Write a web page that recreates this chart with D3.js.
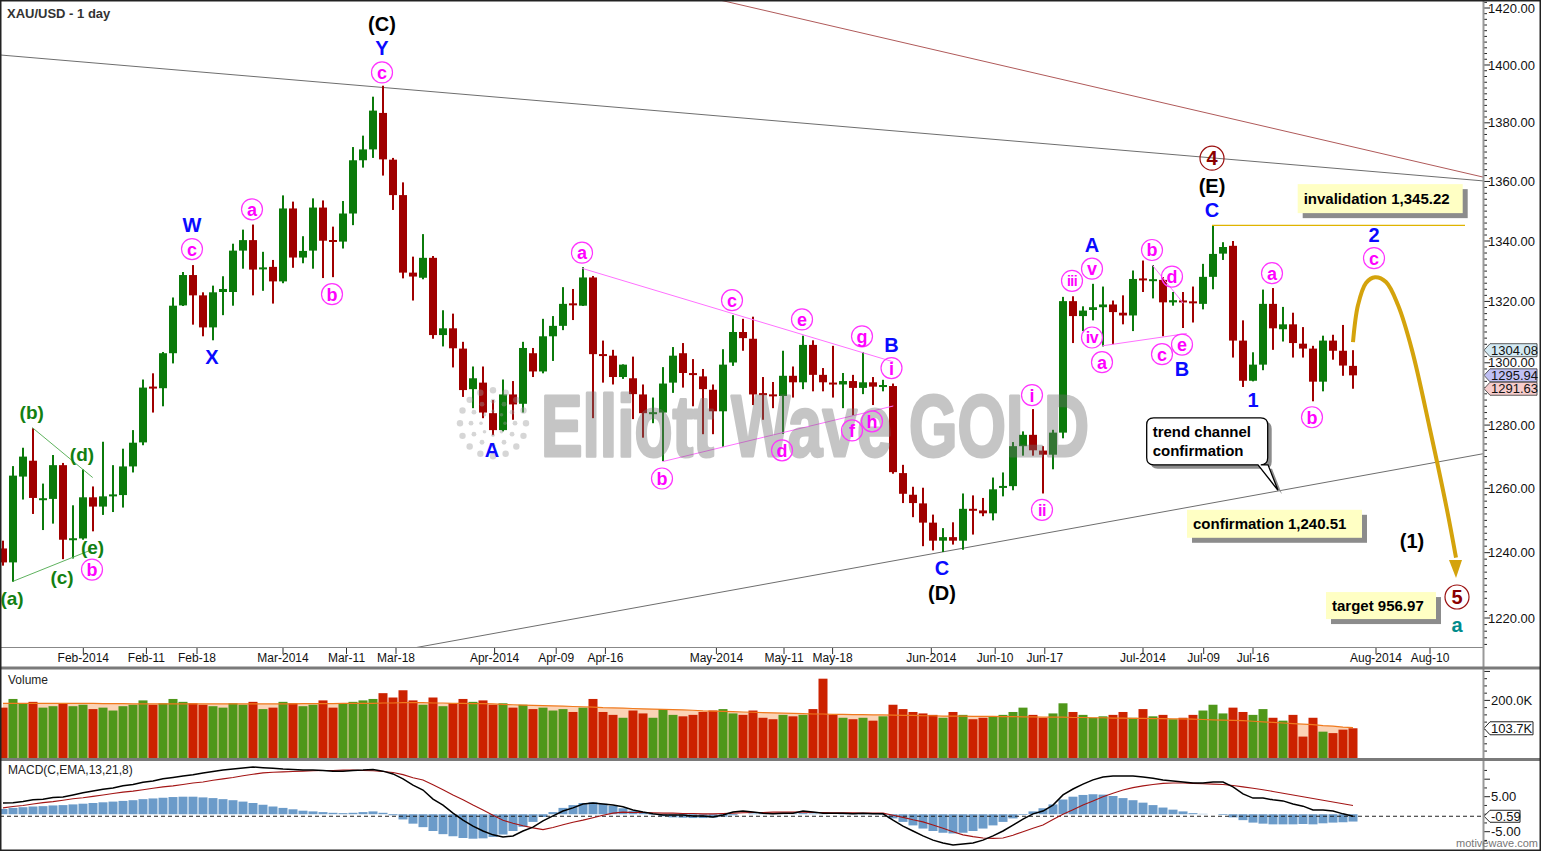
<!DOCTYPE html>
<html><head><meta charset="utf-8"><title>XAU/USD - 1 day</title>
<script src="https://cdn.jsdelivr.net/npm/d3@7/dist/d3.min.js"></script>
<style>
html,body{margin:0;padding:0;background:#fff;}
svg{display:block;font-family:"Liberation Sans",Arial,Helvetica,sans-serif;}
</style></head><body>
<svg id="chart" width="1541" height="851"></svg>
<script>
// ---------------- DATA ----------------
const opens = [1241.3,1237,1263.7,1268.7,1256.4,1256.7,1267.3,1244,1244.4,1257.2,
1254.3,1257.6,1257.9,1266.9,1274.5,1292.2,1291.8,1303.1,1318.7,1328.7,
1322,1311.5,1323.1,1323.1,1336.8,1340.3,1330.8,1331.4,1326.6,1350.9,
1334.5,1336.8,1351.2,1340.1,1339.8,1349.2,1367.2,1370.9,1383.4,1367.4,
1355.4,1329.5,1327.8,1334.4,1309,1311.2,1304.6,1291.5,1293.6,1283.8,
1278.4,1289.8,1286.8,1303.1,1297.2,1308.6,1312,1319.2,1318.6,1327.9,
1302.6,1302.3,1295.4,1295,1289.8,1283.7,1284,1293.6,1303.1,1296.4,
1295.6,1291.3,1284.4,1300.1,1310,1307.8,1290,1289.6,1289.3,1295.8,
1293.7,1305.8,1296.1,1293.4,1293,1294.1,1291.9,1293.7,1292.4,1292.5,
1264.8,1258,1255.3,1249.3,1243.7,1244.8,1243.7,1253.4,1253.1,1252.2,
1260.2,1260.7,1273.3,1276.9,1271.9,1270.6,1277.6,1320.1,1315.2,1317.2,
1318.1,1319,1316.3,1315.4,1327.4,1326.9,1327.1,1319.7,1320.1,1319.8,
1319.2,1328.1,1335.8,1338.4,1307.2,1294.2,1299.4,1319.2,1310.9,1312.5,
1306.2,1304.6,1293.9,1307.2,1303.9,1299];
const highs = [1243.7,1267,1272.8,1279,1261.5,1270.5,1268,1254.7,1266,1260.6,
1274.7,1267.3,1272.5,1278.4,1294.6,1296.6,1303.5,1321.3,1329.7,1332,
1323,1325.2,1328.3,1339.1,1343.8,1345.5,1336.4,1333.7,1355.3,1353.2,
1341.6,1354.3,1353.6,1344.8,1353.4,1371.7,1375.6,1389,1392.8,1368,
1359.7,1334.8,1342.3,1335,1317.1,1316,1306.8,1298.8,1298.8,1288,
1294.6,1294.1,1306.8,1304.8,1314.3,1315.2,1324.7,1324.1,1331.3,1328.4,
1307.2,1304.2,1299.5,1302,1293,1288.8,1298.6,1305.1,1306.4,1301.2,
1298,1293,1304.4,1315.5,1314.3,1315,1295.4,1293.8,1303.9,1298.8,
1308.8,1307.3,1298.3,1305.5,1296.7,1296.1,1303.5,1295.4,1294.5,1293.3,
1267.4,1260.5,1260.2,1251.8,1247.6,1249.4,1258.4,1257.8,1257,1263.4,
1265,1274.6,1278,1285.1,1273.3,1278.5,1321.5,1321.7,1318.4,1325.8,
1324.9,1320.3,1322,1330.2,1333.5,1332,1328,1323.1,1323.1,1324.9,
1332.4,1345.2,1339.6,1340,1313.8,1303.4,1323.9,1324.4,1318.2,1316.3,
1311.6,1305.5,1308.8,1309.1,1312.3,1304.08];
const lows = [1236,1231,1256.5,1252,1247,1249,1238,1238.2,1244,1246.6,
1251.7,1252.6,1254,1265,1273.6,1284,1286,1299.8,1318.5,1312.4,
1308.6,1307.3,1315.5,1318.6,1330.8,1322,1323.5,1319.3,1326,1331.1,
1332.6,1330.8,1327.7,1328,1337.5,1345.3,1364.7,1368,1362,1350.4,
1327.6,1320.3,1327.3,1307.8,1305.3,1298.5,1289,1285.4,1282.2,1276.8,
1278,1281.7,1284,1295.4,1296.6,1300.6,1310.6,1313.9,1318.5,1282.2,
1293.6,1293,1294.8,1281.9,1276,1280.6,1268.6,1290.3,1292,1286,
1277.1,1277.1,1273.1,1299,1303.9,1286.4,1281.7,1285.4,1277.2,1288.8,
1291.5,1290.8,1290.8,1288.8,1285.4,1283,1289.9,1286.4,1290.8,1264.6,
1255.4,1251,1242,1240.7,1240.2,1242.5,1240.9,1245.6,1251.3,1250,
1257.5,1259.4,1270.3,1270.3,1258.4,1266,1275.8,1306.4,1310.3,1313.8,
1305.3,1306,1312.5,1310.3,1323.1,1321,1308.6,1318.6,1311.3,1313.1,
1317.4,1324,1333.7,1301.7,1292.2,1294,1297.6,1304.2,1306.9,1301.7,
1301.7,1287.6,1290.8,1301,1295.8,1291.63];
const closes = [1237,1264,1270,1257,1256.8,1267.3,1244,1244.3,1257.2,1254.3,
1257.5,1258,1266.9,1274.4,1292,1291.8,1303.1,1318.6,1328.7,1322,
1311.5,1323,1324.1,1336.8,1340.3,1330.5,1331,1326.6,1350.9,1334.5,
1336.7,1351.2,1340.1,1339.9,1349.2,1367.2,1370.9,1384.2,1367.5,1355.4,
1329.5,1328.2,1334.4,1309,1311.2,1304.7,1291.2,1295,1284,1278.4,
1289.8,1286.6,1304.8,1297.2,1308.6,1312,1319.2,1318.9,1327.9,1302.8,
1302.4,1295.4,1299.4,1289.9,1283.8,1283.9,1293.3,1302.3,1296.7,1296.3,
1291.5,1284.4,1299.4,1310,1308,1289.8,1289.8,1289.4,1295.8,1293.7,
1305.8,1296.1,1293.7,1293.2,1294.1,1291.9,1293.7,1292.3,1292.6,1265.1,
1258.3,1255.4,1249.3,1243.7,1244.8,1243.7,1253.6,1253.2,1252.2,1259.7,
1260.7,1273.3,1276.9,1272,1270.6,1277.6,1320.1,1315.2,1317,1318.1,
1319,1316.5,1315.4,1327.4,1327.1,1327.1,1319.7,1320.4,1319.9,1319.6,
1328.1,1335.7,1338,1307.2,1294.2,1299.4,1319.2,1311.2,1312.5,1306.4,
1304.6,1293.9,1307.2,1303.9,1299.1,1295.94];

// volume (thousands) and its moving average
const volumes = [175,205,190,195,175,180,190,180,185,170,
175,165,180,185,200,185,190,205,195,190,
185,180,175,190,185,195,170,175,195,190,
180,185,200,175,190,195,200,205,225,210,
235,200,185,210,180,190,205,195,200,185,
190,175,185,170,175,165,170,160,175,205,
160,150,140,165,155,140,170,150,145,150,
160,165,170,155,150,165,140,135,150,145,
150,170,275,150,140,135,140,130,145,185,
170,160,155,150,140,160,150,135,140,145,
150,160,175,150,140,155,190,160,150,140,
145,150,160,140,170,145,150,135,140,150,
165,185,155,175,160,150,170,140,130,150,
75,140,92,87,99,103.7];
const volumeMA = [190,190,190,190,190,190,190,190,190,190,
189,189,189,188,188,188,188,188,188,188,
188,188,188,188,188,188,188,188,188,188,
189,189,189,189,190,190,190,190,191,191,
192,192,192,191,191,190,190,189,189,188,
186,185,184,183,182,181,180,179,178,177,
175,174,173,172,171,170,169,168,167,166,
164,163,162,161,160,159,158,157,156,155,
154,153,153,152,152,151,151,150,150,149,
148,148,147,147,146,146,146,145,145,145,
144,144,143,143,142,142,142,141,141,140,
140,139,139,138,138,137,137,136,136,135,
134,133,132,131,130,128,126,124,122,120,
118,116,113,111,108,106];

// MACD(13,21,8)
const macdLine = [3.2,3.3,3.6,4.1,4.3,4.8,4.9,5.5,6.1,6.6,
7.1,7.5,8.1,8.5,9.1,9.5,10.1,10.5,10.9,11.3,
11.8,12.2,12.6,12.9,13.2,13.5,13.3,13.1,12.9,12.8,
12.6,12.6,12.5,12.3,12.3,12.5,12.6,12.8,12.3,11.5,
10.1,8.3,6.9,4.3,2.6,0.3,-1.7,-3.4,-4.8,-5.9,
-6.5,-6.2,-4.8,-3.7,-1.9,-0.5,0.9,1.8,2.9,3.2,
2.9,2.6,2.1,1.2,0.6,0.1,-0.2,-0.2,-0.2,-0.5,
-0.5,-0.8,-0.2,0.6,0.9,0.6,0.3,0.1,0.3,0.3,
0.9,0.6,0.3,0.3,0.3,0.1,0.3,0.1,0.1,-1.7,
-3.4,-4.8,-6.2,-7.4,-8.2,-8.8,-8.5,-8.2,-7.4,-6.2,
-4.8,-3.1,-1.4,0.1,0.9,2.6,5.5,7.2,8.6,9.8,
10.6,10.9,10.9,10.9,10.6,10.3,9.8,9.5,9.2,8.9,
8.9,9.2,9.2,7.8,5.8,4.6,4.6,4.1,3.8,2.9,
2.3,1.2,1.2,0.9,0.1,-0.59];
const signalLine = [1.8,2.2,2.5,2.9,3.3,3.6,4.0,4.4,4.7,5.1,
5.5,5.9,6.3,6.6,7.0,7.4,7.8,8.1,8.5,8.9,
9.2,9.7,10.1,10.5,11.0,11.4,11.8,12.0,12.1,12.2,
12.3,12.4,12.5,12.5,12.6,12.6,12.5,12.4,12.2,11.9,
11.3,10.4,9.8,8.4,7.0,5.5,4.1,2.6,1.2,-0.3,
-1.7,-2.6,-3.3,-3.9,-4.4,-3.8,-3.0,-2.3,-1.7,-1.0,
-0.3,0.3,0.6,0.5,0.5,0.4,0.3,0.3,0.2,0.2,
0.1,0.1,0.2,0.3,0.4,0.5,0.5,0.6,0.6,0.6,
0.6,0.5,0.5,0.4,0.4,0.4,0.3,0.3,0.3,-0.3,
-0.9,-1.6,-2.2,-3.1,-4.0,-5.0,-5.9,-6.4,-6.8,-6.9,
-6.8,-6.0,-5.0,-4.0,-3.1,-1.5,0.0,1.3,2.6,3.8,
5.0,6.0,6.9,7.6,8.1,8.5,8.8,8.9,8.9,8.8,
8.7,8.6,8.5,8.2,7.8,7.4,7.0,6.5,6.0,5.5,
5.0,4.5,4.0,3.5,3.0,2.5];
const macdHist = [1.5,1.8,2.0,2.2,2.3,2.5,2.6,2.8,3.0,3.2,
3.4,3.6,3.8,4.0,4.3,4.5,4.7,4.9,5.0,5.0,
4.8,4.6,4.3,4.0,3.6,3.2,2.7,2.2,1.8,1.4,
1.0,0.8,0.6,0.4,0.3,0.4,0.6,0.8,0.4,-0.3,
-1.5,-2.7,-3.7,-4.8,-5.7,-6.3,-6.8,-7.0,-6.9,-6.5,
-5.8,-4.8,-3.6,-2.2,-0.8,0.6,1.8,2.6,3.2,3.4,
3.0,2.4,1.7,1.0,0.4,-0.2,-0.6,-0.9,-1.0,-1.1,
-1.1,-1.0,-0.7,-0.3,0.0,0.2,0.3,0.3,0.3,0.2,
0.3,0.2,0.1,0.0,-0.1,-0.1,-0.1,-0.1,-0.2,-1.2,
-2.2,-3.2,-4.1,-4.8,-5.3,-5.5,-5.3,-4.8,-4.1,-3.2,
-2.2,-1.2,-0.2,0.8,1.7,2.8,4.2,5.0,5.5,5.7,
5.6,5.2,4.6,4.0,3.3,2.6,1.9,1.3,0.8,0.3,
0.1,0.0,-0.2,-0.9,-1.7,-2.4,-2.7,-2.9,-2.9,-2.9,
-2.8,-2.9,-2.6,-2.4,-2.3,-2.1];

// time axis: label text and bar position (bar 0 = 22 Jan 2014)
const xTickLabels = ["Feb-2014","Feb-11","Feb-18","Mar-2014","Mar-11","Mar-18","Apr-2014","Apr-09","Apr-16","May-2014","May-11","May-18","Jun-2014","Jun-10","Jun-17","Jul-2014","Jul-09","Jul-16","Aug-2014","Aug-10"];
const xTickBars = [8.03,14.34,19.4,28,34.35,39.3,49.16,55.32,60.24,71.34,78.1,82.96,92.83,99.22,104.18,114,120.07,125,137.3,142.7];
const priceTicks = [1220,1240,1260,1280,1300,1320,1340,1360,1380,1400,1420];
const volumeTicks = [200];
const macdTicks = [5,-5];

// wave labels: text, bar, price, kind
const waveLabels = [
 ["(C)",37.9,1414.4,"black"],["Y",37.9,1406.1,"blue"],["c",37.9,1397.4,"circ"],
 ["W",18.9,1345.3,"blue"],["c",18.9,1337.3,"circ"],["X",20.9,1301.9,"blue"],
 ["a",24.9,1350.6,"circ"],["b",32.9,1322.4,"circ"],["a",57.9,1336.1,"circ"],
 ["A",48.9,1272.1,"blue"],["c",72.9,1320.4,"circ"],["e",79.9,1314.1,"circ"],
 ["g",85.9,1308.6,"circ"],["B",88.85,1305.9,"blue"],["i",88.85,1298.3,"circ"],
 ["b",65.9,1263.1,"circ"],["d",77.9,1272.0,"circ"],["f",84.9,1278.3,"circ"],
 ["h",86.9,1281.2,"circ"],["C",93.9,1235.3,"blue"],["(D)",93.9,1227.8,"black"],
 ["i",102.9,1289.6,"circ"],["ii",103.9,1253.3,"circ"],["iii",106.9,1326.8,"circ"],
 ["v",108.9,1330.8,"circ"],["A",108.9,1338.7,"blue"],["iv",108.9,1308.2,"circ"],
 ["a",109.9,1300.2,"circ"],["b",114.9,1337.0,"circ"],["d",116.9,1328.2,"circ"],
 ["c",115.9,1302.8,"circ"],["e",117.9,1305.9,"circ"],["B",117.9,1298.1,"blue"],
 ["4",120.9,1367.9,"red"],["(E)",120.9,1358.5,"black"],["C",120.9,1350.4,"blue"],
 ["a",126.9,1329.3,"circ"],["1",125.0,1288.2,"blue"],["b",130.9,1282.5,"circ"],
 ["2",137.1,1342.0,"blue"],["c",137.1,1334.3,"circ"],["(1)",140.9,1243.6,"black"],
 ["5",145.4,1226.4,"red"],["a",145.4,1218.0,"teal"],
 ["(b)",2.87,1284.2,"green"],["(d)",7.9,1270.8,"green"],["(e)",8.95,1241.7,"green"],
 ["b",8.9,1234.8,"circ"],["(c)",5.9,1232.6,"green"],["(a)",0.9,1226.0,"green"]
];
// trend lines (bar, price) pairs
const channelTop = [[-0.3,1403.5],[148,1360.2]];
const channelOuter = [[71.7,1422.8],[148,1361.5]];
const channelBottom = [[41.2,1211.0],[148,1270.9]];
const pinkLines = [[[57.93,1330.9],[89.03,1300.3]],[[65.93,1268.4],[89.03,1286.1]],[[109.93,1305.5],[118.37,1309.5]],[[114.93,1332.0],[118.03,1319.4]]];
const greenLines = [[[0.93,1231.1],[8.7,1240.7]],[[2.93,1279.2],[8.97,1263.4]]];
const invalidationLevel = 1345.22, invalidationFrom = 120.9, invalidationTo = 146.2;
const projection = [[135,1306.7],[135.5,1318.8],[136.3,1326.1],[137.2,1328.0],[138.3,1326.4],[139.5,1318.8],[140.9,1304.1],[142.7,1278.6],[144.4,1253.3],[145.3,1238.5]];
const projectionTip = [145.3,1232.2];
const lastHigh = 1304.08, lastClose = 1295.94, lastLow = 1291.63;
const lastVolume = 103.7, lastMacd = -0.59;

// ---------------- DRAW ----------------
const svg = d3.select('#chart');
const AX = 1483;
svg.append('rect').attr('width',1541).attr('height',851).attr('fill','#fff');

const x = d3.scaleLinear().domain([0,148]).range([3,1483]);
const y = d3.scaleLog().domain([1220,1420]).range([618,8]);
const yv = d3.scaleLinear().domain([0,200]).range([758.3,700.4]);
const ym = d3.scaleLinear().domain([-5,5]).range([831.7,796.7]);

const defs = svg.append('defs');
defs.append('clipPath').attr('id','pc').append('rect').attr('x',0).attr('y',0).attr('width',AX).attr('height',647);
defs.append('clipPath').attr('id','vc').append('rect').attr('x',0).attr('y',669).attr('width',AX).attr('height',90);
defs.append('clipPath').attr('id','mc').append('rect').attr('x',0).attr('y',761).attr('width',AX).attr('height',88);

const plot = svg.append('g').attr('clip-path','url(#pc)');
const L = d3.line().x(d=>x(d[0])).y(d=>y(d[1]));

// channel lines
plot.append('path').attr('d',L(channelTop)).attr('stroke','#6e6e6e').attr('stroke-width',1).attr('fill','none');
plot.append('path').attr('d',L(channelOuter)).attr('stroke','#b05a5a').attr('stroke-width',1).attr('fill','none');
plot.append('path').attr('d',L(channelBottom)).attr('stroke','#6e6e6e').attr('stroke-width',1).attr('fill','none');

// candles
const N = closes.length;
const idx = d3.range(N);
const GREEN = '#0b7a0b', RED = '#a00000';
const col = i => closes[i] >= opens[i] ? GREEN : RED;
plot.selectAll('.wick').data(idx).join('rect').attr('class','wick')
  .attr('x',i=>x(i)-1).attr('width',2)
  .attr('y',i=>y(highs[i])).attr('height',i=>Math.max(1,y(lows[i])-y(highs[i])))
  .attr('fill',col);
plot.selectAll('.body').data(idx).join('rect').attr('class','body')
  .attr('x',i=>x(i)-4).attr('width',8)
  .attr('y',i=>{const t=y(Math.max(opens[i],closes[i])), b=y(Math.min(opens[i],closes[i])); return b-t<2 ? (t+b)/2-1 : t;})
  .attr('height',i=>Math.max(2,y(Math.min(opens[i],closes[i]))-y(Math.max(opens[i],closes[i]))))
  .attr('fill',col);

// pattern lines
pinkLines.forEach(p=>plot.append('path').attr('d',L(p)).attr('stroke','#ff70ff').attr('stroke-width',1).attr('fill','none'));
greenLines.forEach(p=>plot.append('path').attr('d',L(p)).attr('stroke','#5fb35f').attr('stroke-width',1).attr('fill','none'));

// watermark
const wm = plot.append('g').attr('opacity',0.4);
wm.append('text').attr('x',541).attr('y',456).attr('textLength',548).attr('lengthAdjust','spacingAndGlyphs')
  .attr('font-size',88).attr('font-weight','bold').attr('font-family','"Liberation Sans Narrow","Liberation Sans",Arial,sans-serif')
  .attr('fill','#707070').attr('stroke','#707070').attr('stroke-width',3).attr('stroke-linejoin','round').text('Elliott Wave GOLD');
const lc = [x(49), y(1280.6)];
[[33,16,3.2],[22,12,2.4],[12,8,1.8]].forEach(([r,n,s])=>{
  d3.range(n).forEach(k=>{const a=2*Math.PI*k/n; wm.append('circle').attr('cx',lc[0]+r*Math.cos(a)).attr('cy',lc[1]+r*Math.sin(a)).attr('r',s).attr('fill','#9a9a9a');});
});

// invalidation line
plot.append('line').attr('x1',x(invalidationFrom)).attr('x2',x(invalidationTo))
  .attr('y1',y(invalidationLevel)).attr('y2',y(invalidationLevel)).attr('stroke','#e0b400').attr('stroke-width',1.2);

// projection arrow
plot.append('path').attr('d',d3.line().curve(d3.curveCatmullRom).x(d=>x(d[0])).y(d=>y(d[1]))(projection))
  .attr('stroke','#d4a30c').attr('stroke-width',4).attr('fill','none');
{
  const tx=x(projectionTip[0]), ty=y(projectionTip[1]);
  plot.append('path').attr('d',`M${tx},${ty} L${tx-7},${ty-18} L${tx+6},${ty-18} Z`).attr('fill','#d4a30c');
}

// wave labels
const lab = svg.append('g');
const kinds = {
  black:{fill:'#000',size:20}, blue:{fill:'#0a0aff',size:20}, green:{fill:'#128012',size:19},
  teal:{fill:'#008b8b',size:20}
};
waveLabels.forEach(([t,b,p,k])=>{
  const cx=x(b), cy=y(p);
  if(k==='circ'){
    lab.append('circle').attr('cx',cx).attr('cy',cy).attr('r',10.5).attr('fill','none').attr('stroke','#ff33ff').attr('stroke-width',1.2);
    lab.append('text').attr('x',cx).attr('y',cy).attr('dy','0.36em').attr('text-anchor','middle')
      .attr('font-size',t.length>2?14:(t.length>1?16:18)).attr('font-weight','bold').attr('fill','#ff00ff')
      .attr('letter-spacing',t.length>1?-0.5:0).text(t);
  } else if(k==='red'){
    lab.append('circle').attr('cx',cx).attr('cy',cy).attr('r',12).attr('fill','none').attr('stroke','#9b1010').attr('stroke-width',1.2);
    lab.append('text').attr('x',cx).attr('y',cy).attr('dy','0.36em').attr('text-anchor','middle')
      .attr('font-size',20).attr('font-weight','bold').attr('fill','#8b0000').text(t);
  } else {
    const s=kinds[k];
    lab.append('text').attr('x',cx).attr('y',cy).attr('dy','0.36em').attr('text-anchor','middle')
      .attr('font-size',s.size).attr('font-weight','bold').attr('fill',s.fill).text(t);
  }
});

// callout boxes
function noteBox(bar, price, w, h, txt){
  const bx=x(bar), by=y(price);
  lab.append('rect').attr('x',bx+5).attr('y',by+5).attr('width',w).attr('height',h).attr('fill','#8c8c8c');
  lab.append('rect').attr('x',bx).attr('y',by).attr('width',w).attr('height',h).attr('fill','#ffffc4');
  lab.append('text').attr('x',bx+6).attr('y',by+h/2).attr('dy','0.36em').attr('font-size',15).attr('font-weight','bold').attr('fill','#000').text(txt);
}
noteBox(129.47,1359.1,165,29,'invalidation 1,345.22');
noteBox(118.4,1253.3,175,28,'confirmation 1,240.51');
noteBox(132.3,1227.9,110,27,'target 956.97');
{
  const bx=x(114.37), by=y(1282.3), w=121, h=47, tx=x(127.5), ty=y(1259.4);
  const shape = `M${bx+7},${by} H${bx+w-7} Q${bx+w},${by} ${bx+w},${by+7} V${by+h-7} Q${bx+w},${by+h} ${bx+w-7},${by+h} H${tx-10} L${tx},${ty} L${tx-20},${by+h} H${bx+7} Q${bx},${by+h} ${bx},${by+h-7} V${by+7} Q${bx},${by} ${bx+7},${by} Z`;
  lab.append('path').attr('d',shape).attr('transform','translate(4,4)').attr('fill','#8c8c8c');
  lab.append('path').attr('d',shape).attr('fill','#fff').attr('stroke','#000').attr('stroke-width',1.3);
  lab.append('text').attr('x',bx+6).attr('y',by+19).attr('font-size',15).attr('font-weight','bold').text('trend channel');
  lab.append('text').attr('x',bx+6).attr('y',by+38).attr('font-size',15).attr('font-weight','bold').text('confirmation');
}

// title
svg.append('text').attr('x',7).attr('y',18).attr('font-size',13).attr('font-weight','bold').attr('fill','#333').text('XAU/USD - 1 day');

// ---------- axes ----------
const ax = svg.append('g');
d3.range(1212,1424,2).forEach(v=>{
  const yy=y(v); if(yy<1||yy>646) return;
  ax.append('line').attr('x1',AX+1).attr('x2',AX+(v%20===0?7:4)).attr('y1',yy).attr('y2',yy).attr('stroke','#222');
});
priceTicks.forEach(v=>{
  ax.append('text').attr('x',AX+5).attr('y',y(v)).attr('dy','0.36em').attr('font-size',13).attr('fill','#111').text(v.toFixed(2));
});
function valueTag(yy, txt, fill, w){
  ax.append('path').attr('d',`M${AX+1},${yy} L${AX+7},${yy-6.5} H${AX+7+w} V${yy+6.5} H${AX+7} Z`).attr('fill',fill).attr('stroke','#333').attr('stroke-width',0.8);
  ax.append('text').attr('x',AX+8).attr('y',yy).attr('dy','0.36em').attr('font-size',13).attr('fill','#111').text(txt);
}
valueTag(y(lastHigh), lastHigh.toFixed(2), '#d3e9f2', 47);
valueTag(y(lastClose), lastClose.toFixed(2), '#c0c0f4', 47);
valueTag(y(lastLow), lastLow.toFixed(2), '#f6cccc', 47);

ax.append('line').attr('x1',0).attr('x2',AX).attr('y1',647.5).attr('y2',647.5).attr('stroke','#888');
xTickBars.forEach((b,i)=>{
  ax.append('line').attr('x1',x(b)).attr('x2',x(b)).attr('y1',648).attr('y2',654).attr('stroke','#333');
  ax.append('text').attr('x',x(b)).attr('y',662).attr('text-anchor','middle').attr('font-size',12).attr('fill','#111').text(xTickLabels[i]);
});

// ---------- volume panel ----------
const vp = svg.append('g').attr('clip-path','url(#vc)');
vp.append('path').datum(idx).attr('d',d3.area().x(i=>x(i)).y0(yv(0)).y1(i=>yv(volumeMA[i]))).attr('fill','#fbd3b6');
vp.selectAll('.vb').data(idx).join('rect').attr('class','vb')
  .attr('x',i=>x(i)-4.5).attr('width',9).attr('y',i=>yv(volumes[i])).attr('height',i=>yv(0)-yv(volumes[i]))
  .attr('fill',i=>closes[i]>=opens[i]?'#4f971a':'#cc2200');
vp.append('path').datum(idx).attr('d',d3.line().x(i=>x(i)).y(i=>yv(volumeMA[i]))).attr('fill','none').attr('stroke','#f07a1e').attr('stroke-width',1.2);
svg.append('text').attr('x',8).attr('y',684).attr('font-size',12).attr('fill','#222').text('Volume');
d3.range(0,301,25).forEach(v=>{const yy=yv(v); if(yy<670||yy>758) return; ax.append('line').attr('x1',AX+1).attr('x2',AX+(v%100===0?7:4)).attr('y1',yy).attr('y2',yy).attr('stroke','#222');});
volumeTicks.forEach(v=>ax.append('text').attr('x',AX+8).attr('y',yv(v)).attr('dy','0.36em').attr('font-size',13).attr('fill','#111').text(v.toFixed(1)+'K'));
{
  const yy=yv(lastVolume);
  ax.append('path').attr('d',`M${AX+1},${yy} L${AX+7},${yy-6.5} H${AX+50} V${yy+6.5} H${AX+7} Z`).attr('fill','#fff').attr('stroke','#222');
  ax.append('text').attr('x',AX+8).attr('y',yy).attr('dy','0.36em').attr('font-size',13).attr('fill','#111').text(lastVolume.toFixed(1)+'K');
}

// ---------- MACD panel ----------
const mp = svg.append('g').attr('clip-path','url(#mc)');
mp.selectAll('.hb').data(idx).join('rect').attr('class','hb')
  .attr('x',i=>x(i)-4.5).attr('width',9)
  .attr('y',i=>Math.min(ym(0),ym(macdHist[i]))).attr('height',i=>Math.abs(ym(macdHist[i])-ym(0)))
  .attr('fill','#6b9bc9');
mp.append('line').attr('x1',0).attr('x2',AX).attr('y1',ym(lastMacd)).attr('y2',ym(lastMacd)).attr('stroke','#222').attr('stroke-dasharray','4,3');
mp.append('path').datum(idx).attr('d',d3.line().x(i=>x(i)).y(i=>ym(signalLine[i]))).attr('fill','none').attr('stroke','#a31515').attr('stroke-width',1.1);
mp.append('path').datum(idx).attr('d',d3.line().x(i=>x(i)).y(i=>ym(macdLine[i]))).attr('fill','none').attr('stroke','#000').attr('stroke-width',1.5);
svg.append('text').attr('x',8).attr('y',774).attr('font-size',12).attr('fill','#222').text('MACD(C,EMA,13,21,8)');
d3.range(-12.5,13,2.5).forEach(v=>{const yy=ym(v); if(yy<762||yy>848) return; ax.append('line').attr('x1',AX+1).attr('x2',AX+(v%5===0?7:4)).attr('y1',yy).attr('y2',yy).attr('stroke','#222');});
macdTicks.forEach(v=>ax.append('text').attr('x',AX+8).attr('y',ym(v)).attr('dy','0.36em').attr('font-size',13).attr('fill','#111').text(v.toFixed(2)));
{
  const yy=ym(lastMacd);
  ax.append('path').attr('d',`M${AX+1},${yy} L${AX+7},${yy-6} H${AX+37} V${yy+6} H${AX+7} Z`).attr('fill','#fff').attr('stroke','#222');
  ax.append('text').attr('x',AX+8).attr('y',yy).attr('dy','0.36em').attr('font-size',13).attr('fill','#111').text(lastMacd.toFixed(2));
}
svg.append('text').attr('x',1538).attr('y',847).attr('text-anchor','end').attr('font-size',11).attr('fill','#777').text('motivewave.com');

// frame & separators
ax.append('line').attr('x1',AX+0.5).attr('x2',AX+0.5).attr('y1',0).attr('y2',851).attr('stroke','#999').attr('stroke-width',2);
svg.append('line').attr('x1',0).attr('x2',1541).attr('y1',668).attr('y2',668).attr('stroke','#7a7a7a').attr('stroke-width',3);
svg.append('line').attr('x1',0).attr('x2',1541).attr('y1',759.5).attr('y2',759.5).attr('stroke','#7a7a7a').attr('stroke-width',3);
svg.append('rect').attr('x',0.75).attr('y',0.75).attr('width',1539.5).attr('height',849.5).attr('fill','none').attr('stroke','#222').attr('stroke-width',1.5);
</script>
</body></html>
